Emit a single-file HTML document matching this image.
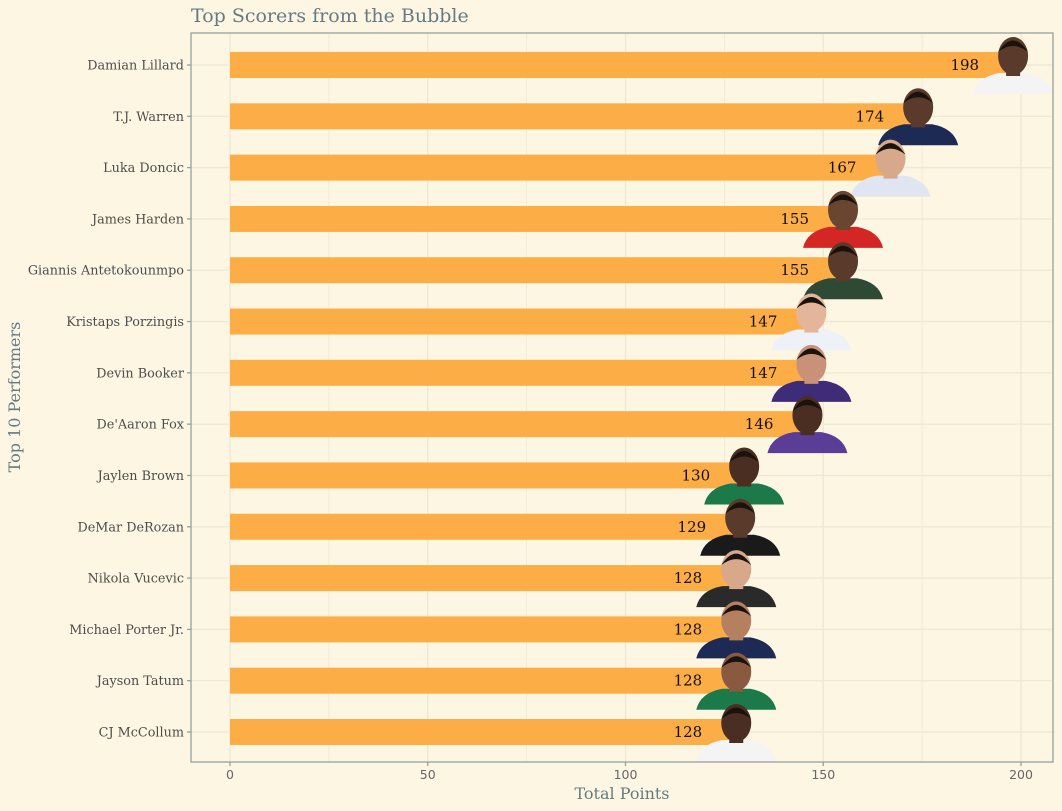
<!DOCTYPE html>
<html><head><meta charset="utf-8"><style>
html,body{margin:0;padding:0;background:#fdf6e3;}
svg{display:block;}
</style></head><body>
<svg id="chart" width="1062" height="811" viewBox="0 0 1062 811" xmlns="http://www.w3.org/2000/svg" font-family="'DejaVu Serif','Liberation Serif',serif">
<defs><clipPath id="panelclip"><rect x="191" y="33" width="862" height="729"/></clipPath></defs>
<rect width="1062" height="811" fill="#fdf6e3"/>
<text x="191" y="22" font-size="19" fill="#657b83">Top Scorers from the Bubble</text>
<g id="grid"></g>
<g id="bars"></g>
<g id="photos" clip-path="url(#panelclip)"></g>
<g id="labels"></g>
<rect x="191" y="33" width="862" height="729" fill="none" stroke="#93a1a1" stroke-width="1.3"/>
<g id="axes"></g>
<text x="622" y="799" font-size="16" fill="#657b83" text-anchor="middle">Total Points</text>
<text transform="translate(20,397) rotate(-90)" font-size="16" fill="#657b83" text-anchor="middle">Top 10 Performers</text>
</svg>
<script>
const players = ["Damian Lillard","T.J. Warren","Luka Doncic","James Harden","Giannis Antetokounmpo","Kristaps Porzingis","Devin Booker","De'Aaron Fox","Jaylen Brown","DeMar DeRozan","Nikola Vucevic","Michael Porter Jr.","Jayson Tatum","CJ McCollum"];
const points = [198,174,167,155,155,147,147,146,130,129,128,128,128,128];
const xTicks = [0,50,100,150,200];
const jerseys = ["#f4f4f4","#1d2b54","#dfe6f2","#d52626","#2e4a35","#eef1f7","#3f2c78","#5a3d97","#1c7a4a","#1a1a1a","#2a2a2a","#1d2b54","#1c7a4a","#f4f4f4"];
const skins = ["#5a3a2a","#5a3a2a","#d8a88a","#6a4530","#5a3a2a","#e3b59a","#c99278","#4a2e22","#4a2e22","#5a3a2a","#d8a88a","#b58060","#8a5a40","#4a2e22"];
const NS="http://www.w3.org/2000/svg";
const x0=230, xs=(1021-230)/200;
const X=v=>x0+v*xs;
const Y=i=>65+i*((732-65)/13);
function mk(t,a,p){const e=document.createElementNS(NS,t);for(const k in a)e.setAttribute(k,a[k]);p.appendChild(e);return e;}
const grid=document.getElementById('grid'),bars=document.getElementById('bars'),photos=document.getElementById('photos'),labels=document.getElementById('labels'),axes=document.getElementById('axes');
for(let v=-25;v<=225;v+=25){const x=X(v);if(x<=191||x>=1053)continue;
 const l=mk('line',{x1:x,x2:x,y1:33,y2:762,stroke:'#eee8d5','stroke-width':v%50===0?1.4:0.8},grid);
 
 }
players.forEach((p,i)=>{const y=Y(i);
 const g=mk('line',{x1:191,x2:1053,y1:y,y2:y,stroke:'#eee8d5','stroke-width':1.4},grid);
 
 
 const b=mk('rect',{x:X(0),y:y-13,width:X(points[i])-X(0),height:26,fill:'#fdad46'},bars);
 
 
 const cx=X(points[i]);
 const ph=mk('g',{},photos);
 
 
 mk('path',{d:`M${cx-40},${y+29} Q${cx-36},${y+12} ${cx-14},${y+8} L${cx+14},${y+8} Q${cx+36},${y+12} ${cx+40},${y+29} Z`,fill:jerseys[i]},ph);
 mk('rect',{x:cx-7,y:y,width:14,height:11,fill:skins[i]},ph);
 mk('ellipse',{cx:cx,cy:y-9,rx:15,ry:19,fill:skins[i]},ph);
 mk('path',{d:`M${cx-15},${y-13} Q${cx},${y-36} ${cx+15},${y-13} Q${cx},${y-25} ${cx-15},${y-13}Z`,fill:'#1a120c'},ph);
 const t=mk('text',{x:cx-34,y:y+5,'font-size':15,fill:'#111','text-anchor':'end'},labels);
 t.textContent=points[i];
 
 
 const tk=mk('line',{x1:187,x2:191,y1:y,y2:y,stroke:'#93a1a1','stroke-width':1.3},axes);
 
 
 const yl=mk('text',{x:184,y:y+4.5,'font-size':12.8,fill:'#4d4d4d','text-anchor':'end'},axes);
 yl.textContent=p;
 
 
});
xTicks.forEach(v=>{const x=X(v);
 const tk=mk('line',{x1:x,x2:x,y1:762,y2:766,stroke:'#93a1a1','stroke-width':1.3},axes);
 
 
 const tl=mk('text',{x:x,y:779,'font-size':12.5,fill:'#666','text-anchor':'middle','font-family':"'DejaVu Sans','Liberation Sans',sans-serif"},axes);
 tl.textContent=v;
 
 
});
</script>
</body></html>
